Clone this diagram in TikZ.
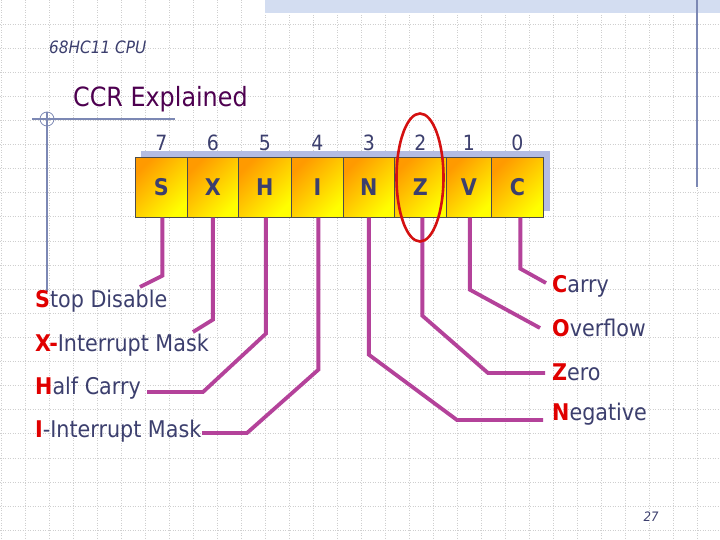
\documentclass[tikz,border=0pt]{standalone}
\usepackage{fontspec}
\setmainfont{DejaVu Sans Condensed}
\definecolor{gridc}{HTML}{CFCFCF}
\definecolor{bandc}{HTML}{D3DDF1}
\definecolor{rulec}{HTML}{7C88B4}
\definecolor{titlec}{HTML}{4E0050}
\definecolor{textc}{HTML}{3C3F6E}
\definecolor{redc}{HTML}{E00000}
\definecolor{linkc}{HTML}{B4429A}
\definecolor{shadowc}{HTML}{B4BCE2}
\definecolor{ovalc}{HTML}{D41010}
\definecolor{orangec}{HTML}{FF9A00}
\definecolor{yellowc}{HTML}{FFFF00}
\tikzset{
  bitbox/.style={draw=black!70, line width=0.7pt, inner sep=0pt, minimum height=60pt,
    anchor=north west, top color=orangec, middle color=yellowc, bottom color=yellowc,
    shading angle=45, text=textc, font=\fontsize{23}{27}\selectfont\bfseries},
  bitnum/.style={text=textc, font=\fontsize{21}{25}\selectfont, inner sep=0pt},
  lbl/.style={anchor=west, inner sep=0pt, text=textc, font=\fontsize{23}{27}\selectfont},
  link/.style={draw=linkc, line width=3.8pt, line join=miter},
}
\newcommand{\rl}[1]{\textcolor{redc}{\textbf{#1}}}
\begin{document}
\begin{tikzpicture}[x=1pt,y=-1pt]
\useasboundingbox (0,0) rectangle (720,540);
\fill[white] (0,0) rectangle (720,540);
% grid
\foreach \k in {0,...,29} {
  \draw[gridc, line width=0.8pt, dash pattern=on 1pt off 1.5pt] (1+24*\k,0) -- (1+24*\k,540);
}
\foreach \k in {1,...,22} {
  \draw[gridc, line width=0.8pt, dash pattern=on 1pt off 1.5pt] (0,24.1*\k) -- (720,24.1*\k);
}
% top band and rules
\fill[bandc] (265,0) rectangle (720,13);
\draw[rulec, line width=1.4pt] (697,0) -- (697,187);
\draw[rulec, line width=1.2pt] (32,119) -- (175,119);
\draw[rulec, line width=1.2pt] (47,112) -- (47,292);
\draw[rulec, line width=0.8pt] (47,119) circle (7);
% titles
\node[anchor=west, inner sep=0pt, text=textc, font=\fontsize{17}{20}\selectfont\itshape] (hdr) at (49,47) {68HC11 CPU};
\node[anchor=west, inner sep=0pt, text=titlec, font=\fontsize{26.5}{30}\selectfont] (ttl) at (73,99) {CCR Explained};
% register
\fill[shadowc] (141,151) rectangle (550,211);
\node[bitbox, minimum width=52pt] (bS) at (135,157) {S};
\node[bitbox, minimum width=51pt] (bX) at (187,157) {X};
\node[bitbox, minimum width=53pt] (bH) at (238,157) {H};
\node[bitbox, minimum width=52pt] (bI) at (291,157) {I};
\node[bitbox, minimum width=51pt] (bN) at (343,157) {N};
\node[bitbox, minimum width=52pt] (bZ) at (394,157) {Z};
\node[bitbox, minimum width=45pt] (bV) at (446,157) {V};
\node[bitbox, minimum width=52pt] (bC) at (491,157) {C};
\node[bitnum] (n7) at (bS.north |- 0,143) {7};
\node[bitnum] (n6) at (bX.north |- 0,143) {6};
\node[bitnum] (n5) at (bH.north |- 0,143) {5};
\node[bitnum] (n4) at (bI.north |- 0,143) {4};
\node[bitnum] (n3) at (bN.north |- 0,143) {3};
\node[bitnum] (n2) at (bZ.north |- 0,143) {2};
\node[bitnum] (n1) at (bV.north |- 0,143) {1};
\node[bitnum] (n0) at (bC.north |- 0,143) {0};
% labels
\node[lbl] (lS) at (35,301) {\rl{S}top Disable};
\node[lbl] (lX) at (35,345) {\rl{X-}Interrupt Mask};
\node[lbl] (lH) at (35,388) {\rl{H}alf Carry};
\node[lbl] (lI) at (35,431) {\rl{I}-Interrupt Mask};
\node[lbl] (lC) at (552,286) {\rl{C}arry};
\node[lbl] (lV) at (552,328) {\rl{O}verflow};
\node[lbl] (lZ) at (552,372) {\rl{Z}ero};
\node[lbl] (lN) at (552,414) {\rl{N}egative};
% connector ends
\coordinate (eS) at (140,287);
\coordinate (eX) at (193,332);
\coordinate (eH) at (147,392);
\coordinate (eI) at (202,433);
\coordinate (eN) at (543,420);
\coordinate (eZ) at (545,373);
\coordinate (eV) at (540,328);
\coordinate (eC) at (546,283);
% connectors
\draw[link] ([xshift=1pt]bS.south) -- ++(0,58) -- (eS);
\draw[link] (bX.south) -- ++(0,102) -- (eX);
\draw[link] ([xshift=1pt]bH.south) -- ++(0,116) -- (203,392) -- (eH);
\draw[link] ([xshift=1pt]bI.south) -- ++(0,152) -- (247,433) -- (eI);
\draw[link] (bN.south) -- ++(0,137) -- (457,420) -- (eN);
\draw[link] ([xshift=2pt]bZ.south) -- ++(0,98) -- (488,373) -- (eZ);
\draw[link] ([xshift=1pt]bV.south) -- ++(0,72) -- (eV);
\draw[link] ([xshift=3pt]bC.south) -- ++(0,51) -- (eC);
% highlight oval
\draw[ovalc, line width=2.6pt] (420,177.5) ellipse [x radius=23.5, y radius=64];
% page number
\node[inner sep=0pt, text=textc, font=\fontsize{13}{15}\selectfont\itshape] (pg) at (651,517) {27};
\end{tikzpicture}
\end{document}
